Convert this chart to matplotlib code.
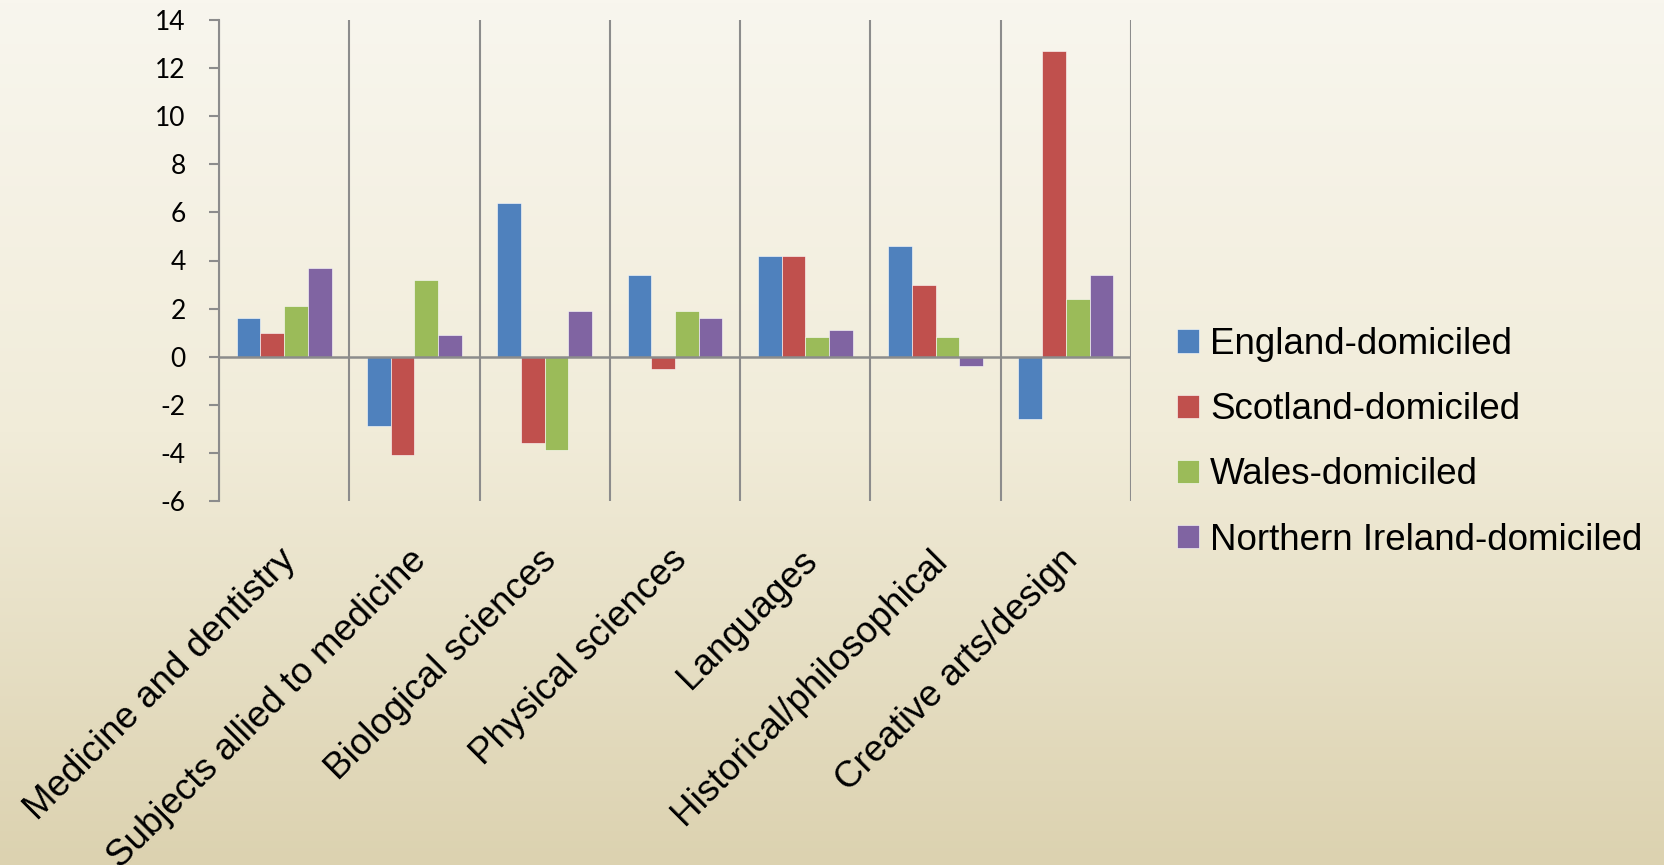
import matplotlib.pyplot as plt
import numpy as np
from matplotlib.colors import LinearSegmentedColormap
from matplotlib.transforms import ScaledTranslation

categories = ['Medicine and dentistry', 'Subjects allied to medicine',
              'Biological sciences', 'Physical sciences', 'Languages',
              'Historical/philosophical', 'Creative arts/design']
series_names = ['England-domiciled', 'Scotland-domiciled',
                'Wales-domiciled', 'Northern Ireland-domiciled']
england = [1.6, -2.9, 6.4, 3.4, 4.2, 4.6, -2.6]
scotland = [1.0, -4.1, -3.6, -0.5, 4.2, 3.0, 12.7]
wales = [2.1, 3.2, -3.9, 1.9, 0.8, 0.8, 2.4]
northern_ireland = [3.7, 0.9, 1.9, 1.6, 1.1, -0.4, 3.4]
y_ticks = [-6, -4, -2, 0, 2, 4, 6, 8, 10, 12, 14]

colors = ['#4F81BD', '#C0504D', '#9BBB59', '#8064A2']
grid_col = '#8C8C8C'

fig = plt.figure(figsize=(16.65, 8.65), dpi=100)

# background gradient, cream at the top to beige at the bottom
bg = fig.add_axes([0, 0, 1, 1], zorder=-10)
cmap = LinearSegmentedColormap.from_list(
    'bg', [(0.0, '#F8F6EE'), (0.5, '#F1ECD9'), (1.0, '#DCD2B0')])
bg.imshow(np.linspace(0, 1, 256).reshape(-1, 1), aspect='auto', cmap=cmap,
          extent=[0, 1, 0, 1], origin='upper')
bg.axis('off')

ax = fig.add_axes([219 / 1665, 1 - 501 / 865, (1131 - 219) / 1665, (501 - 20) / 865])
ax.patch.set_alpha(0)

x = np.arange(len(categories))
width = 1 / 5.5
data = [england, scotland, wales, northern_ireland]
for i, (vals, name) in enumerate(zip(data, series_names)):
    ax.bar(x + (i - 1.5) * width, vals, width, color=colors[i], label=name,
           edgecolor='#FFFFFF', linewidth=0.4, zorder=3)

ax.set_xlim(-0.5, len(categories) - 0.5)
ax.set_ylim(-6, 14)
ax.set_yticks(y_ticks)
ax.set_yticklabels([str(t) for t in y_ticks], fontsize=19, family='Lato')

# category boundaries
for b in np.arange(len(categories) + 1) - 0.5:
    ax.axvline(b, color=grid_col, linewidth=1.5, zorder=1)
ax.axhline(0, color=grid_col, linewidth=1.8, zorder=4)

for s in ['top', 'right', 'bottom']:
    ax.spines[s].set_visible(False)
ax.spines['left'].set_color(grid_col)
ax.spines['left'].set_linewidth(1.5)
ax.tick_params(axis='y', length=7, width=1.5, color=grid_col, pad=17)

ax.set_xticks(x)
ax.set_xticklabels(categories, rotation=45, ha='right', va='top',
                   rotation_mode='anchor', fontsize=26.5, family='Liberation Sans')
ax.tick_params(axis='x', length=0, pad=30)
offset = ScaledTranslation(-6 / 100, 0, fig.dpi_scale_trans)
for lab in ax.get_xticklabels():
    lab.set_transform(lab.get_transform() + offset)

leg = ax.legend(loc='center left', bbox_to_anchor=(1.014, 0.122), frameon=False,
                prop={'family': 'Liberation Sans', 'size': 26.5},
                handlelength=0.6, handleheight=0.6, handletextpad=0.3,
                labelspacing=0.82)

fig.savefig('out.png', dpi=100)
